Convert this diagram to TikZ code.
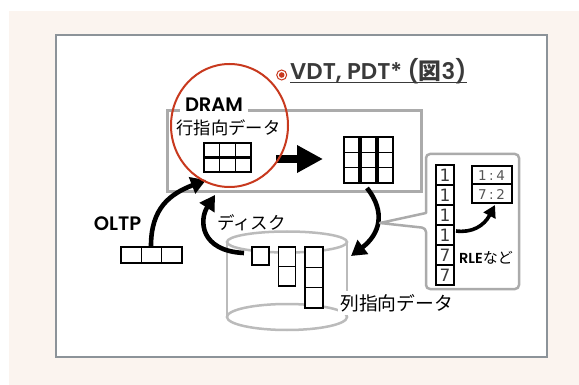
\documentclass[tikz,border=0pt]{standalone}
\usepackage{fontspec}
\setmainfont{Poppins}[BoldFont={Poppins SemiBold}]
\newfontfamily\jp{Noto Sans CJK JP}
\newfontfamily\numfont{DejaVu Sans}
\usetikzlibrary{arrows.meta}
\definecolor{bg}{HTML}{FBF4EF}
\definecolor{framec}{HTML}{8C9399}
\definecolor{boxgray}{HTML}{ABABAB}
\definecolor{cylgray}{HTML}{BBBBBB}
\definecolor{redc}{HTML}{C8391E}
\definecolor{textdark}{HTML}{3A3A3A}
\definecolor{numgray}{HTML}{3C3C3C}
\definecolor{rlegray}{HTML}{555555}
\begin{document}
\begin{tikzpicture}[x=1pt,y=-1pt,
  fatarrow/.style={line width=4.6pt,-{Triangle[length=15pt,width=17pt]}},
  tbl/.style={draw=black,line width=1.5pt,fill=white},
  jptext/.style={font=\jp\fontsize{#1}{#1}\selectfont,inner sep=0pt},
  numtext/.style={font=\numfont\fontsize{17}{17}\selectfont,text=numgray,inner sep=0pt},
  rletext/.style={font=\numfont\fontsize{13.5}{13.5}\selectfont,text=rlegray,inner sep=0pt}]
\useasboundingbox (0,0) rectangle (579,385);
\fill[white] (0,0) rectangle (579,385);
\fill[bg] (9,11) rectangle (579,385);
\draw[framec,fill=white,line width=1.5pt] (56,35) rectangle (547,357);
% DRAM box
\draw[boxgray,line width=3pt] (167,111) rectangle (421,192);
\node[fill=white,inner xsep=5pt,inner ysep=2pt,font=\bfseries\fontsize{19.5}{19.5}\selectfont] (dram) at (214,105) {DRAM};
\node[jptext=17.3] (rowlabel) at (228.5,128) {行指向データ};
% row table
\draw[tbl] (204,143) rectangle (251,156.8);
\draw[tbl] (204,158.2) rectangle (251,172);
\draw[line width=1.5pt] (219.7,143) -- (219.7,156.8) (235.3,143) -- (235.3,156.8)
  (219.7,158.2) -- (219.7,172) (235.3,158.2) -- (235.3,172);
% column table in DRAM
\foreach \x in {344,361,378}{
  \draw[tbl] (\x,137) rectangle (\x+15,183);
  \draw[line width=1.5pt] (\x,152.3) -- (\x+15,152.3) (\x,167.7) -- (\x+15,167.7);
}
\coordinate (rowS) at (276,159);
\coordinate (rowE) at (323,159);
\draw[line width=8pt,-{Triangle[length=26pt,width=26pt]}] (rowS) -- (rowE);
% cylinder
\draw[cylgray,line width=2.5pt] (287,242) ellipse [x radius=60,y radius=10.5];
\draw[cylgray,line width=2.5pt] (227,242) -- (227,317) (347,242) -- (347,317);
\draw[cylgray,line width=2.5pt] (287,317) ellipse [x radius=60,y radius=13];
\node[jptext=18.8,fill=white,inner xsep=2pt,inner ysep=3pt,anchor=west] (collabel) at (338,303) {列指向データ};
% disk column boxes
\draw[tbl] (252,247) rectangle (269,265);
\draw[tbl] (278.5,247) rectangle (295.5,286);
\draw[line width=1.5pt] (278.5,266.5) -- (295.5,266.5);
\draw[tbl] (305,247) rectangle (323,308);
\draw[line width=1.5pt] (305,267.3) -- (323,267.3) (305,287.7) -- (323,287.7);
% OLTP
\node[font=\bfseries\fontsize{19.5}{19.5}\selectfont,inner sep=0pt] (oltp) at (117.5,224) {OLTP};
\draw[tbl] (121,247) rectangle (182,263);
\draw[line width=1.5pt] (141.3,247) -- (141.3,263) (161.7,247) -- (161.7,263);
\coordinate (oltpS) at (151,246);
\coordinate (oltpE) at (206,180);
\draw[fatarrow] (oltpS) .. controls (151,208) and (170,194) .. (oltpE);
% disk arrow
\node[jptext=17.5] (disk) at (251.5,223) {ディスク};
\coordinate (diskS) at (244,253);
\coordinate (diskE) at (215,195);
\draw[fatarrow] (diskS) .. controls (200,251) and (199,220) .. (diskE);
% column -> disk arrow
\coordinate (colS) at (367,188);
\coordinate (colE) at (351,256);
\draw[fatarrow] (colS) .. controls (386,212) and (380,234) .. (colE);
% RLE callout
\draw[boxgray,line width=2.5pt,line join=round] (426,213) [rounded corners=4pt] -- (426,154) -- (519,154) -- (519,289) -- (426,289) -- (426,228) [sharp corners] -- (380,223) -- cycle;
\foreach \v [count=\i from 0] in {1,1,1,1,7,7}{
  \draw[tbl] (436,165+20*\i) rectangle (454,185+20*\i);
  \node[numtext] (val\i) at (445,175.5+20*\i) {\v};
}
\draw[black,line width=2pt,fill=white] (471.5,166.5) rectangle (511.5,184.5);
\draw[black,line width=2pt,fill=white] (471.5,184.5) rectangle (511.5,203);
\node[rletext] (rle1) at (491.5,176) {1\hspace{2.5pt}:\hspace{2.5pt}4};
\node[rletext] (rle2) at (491.5,194) {7\hspace{2.5pt}:\hspace{2.5pt}2};
\coordinate (rleS) at (456,231);
\coordinate (rleE) at (495,205);
\draw[line width=3.6pt,-{Triangle[length=12pt,width=13pt]}] (rleS) .. controls (472,233) and (484,226) .. (rleE);
\node[inner sep=0pt] (rlelabel) at (486,258) {\bfseries\fontsize{14.5}{14.5}\selectfont RLE{\jp\mdseries\fontsize{15}{15}\selectfont など}};
% VDT title
\node[anchor=base west,inner sep=0pt,text=textdark,font=\bfseries\fontsize{22.8}{22.8}\selectfont] (vdt) at (290,79.5) {VDT, PDT* ({\jp\bfseries 図}3)};
\draw[textdark,line width=1.3pt] ([yshift=-3pt]vdt.base west) -- ([yshift=-3pt]vdt.base east);
\node[circle,draw=redc,line width=1pt,fill=white,minimum size=10pt,inner sep=0pt] (bull) at (281.7,75) {};
\fill[redc] (bull.center) circle (2.8pt);
% red circle
\draw[redc,line width=2pt] (229.5,125.5) ellipse [x radius=58.5,y radius=61.5];
\end{tikzpicture}
\end{document}
